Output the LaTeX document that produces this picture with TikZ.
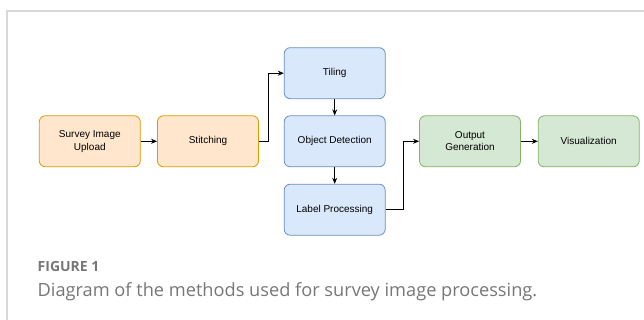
\documentclass[tikz,border=0pt]{standalone}
\usepackage{fontspec}
\setmainfont{Liberation Sans}
\newfontfamily\capfont{Open Sans}
\usetikzlibrary{arrows.meta}
\definecolor{ofill}{HTML}{FFE6CC}
\definecolor{odraw}{HTML}{D79B00}
\definecolor{bfill}{HTML}{DAE8FC}
\definecolor{bdraw}{HTML}{6C8EBF}
\definecolor{gfill}{HTML}{D5E8D4}
\definecolor{gdraw}{HTML}{82B366}
\definecolor{framec}{HTML}{D9D9D9}
\definecolor{capc}{HTML}{777777}
\tikzset{
  box/.style={rounded corners=6pt, minimum width=101pt, minimum height=51pt, align=center, font=\fontsize{10}{12.5}\selectfont, line width=0.8pt, inner sep=0pt},
  obox/.style={box, fill=ofill, draw=odraw},
  bbox/.style={box, fill=bfill, draw=bdraw},
  gbox/.style={box, fill=gfill, draw=gdraw},
  conn/.style={-{Stealth[length=6pt,width=5pt]}, line width=0.8pt, black},
}
\begin{document}
\begin{tikzpicture}[x=1pt,y=1pt]
\useasboundingbox (0,0) rectangle (644,-320);
\draw[framec, line width=1.5pt] (7,-320) -- (7,-11) -- (644,-11);
\node[obox] (survey) at (89.8,-141.3) {Survey Image\\Upload};
\node[obox] (stitch) at (208,-141.3) {Stitching};
\node[bbox] (tiling) at (334.7,-73.2) {Tiling};
\node[bbox] (detect) at (334.7,-141.3) {Object Detection};
\node[bbox] (label) at (334.7,-209.7) {Label Processing};
\node[gbox] (output) at (470,-141.3) {Output\\Generation};
\node[gbox] (vis) at (588.7,-141.3) {Visualization};
\draw[conn] (survey) -- (stitch);
\draw[conn] (stitch.east) -- ++(9,0) |- (tiling.west);
\draw[conn] (tiling) -- (detect);
\draw[conn] (detect) -- (label);
\draw[conn] (label.east) -- ++(17.7,0) |- (output.west);
\draw[conn] (output) -- (vis);
\node[anchor=base west, inner sep=0pt, text=capc, font=\capfont\fontsize{14}{16}\selectfont\bfseries] (fig) at (37.5,-271) {FIGURE 1};
\node[anchor=base west, inner sep=0pt, text=capc, font=\capfont\fontsize{18.2}{20}\selectfont] (cap) at (37.5,-296) {Diagram of the methods used for survey image processing.};
\end{tikzpicture}
\end{document}
